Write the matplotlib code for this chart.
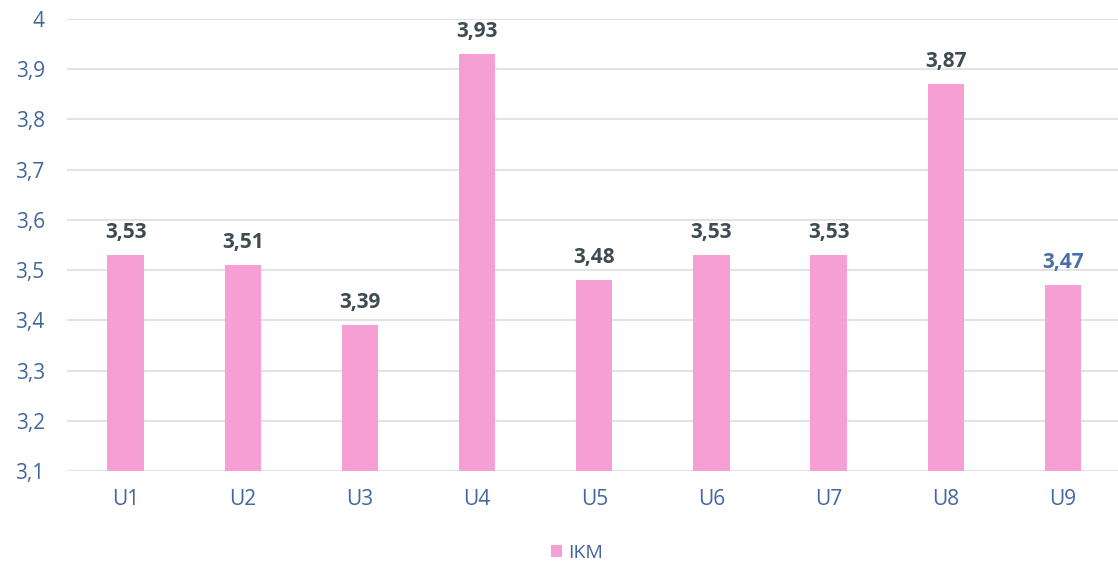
import matplotlib
matplotlib.use("Agg")
import matplotlib.pyplot as plt
from matplotlib.ticker import FixedLocator, FuncFormatter

categories = ["U1", "U2", "U3", "U4", "U5", "U6", "U7", "U8", "U9"]
ikm = [3.53, 3.51, 3.39, 3.93, 3.48, 3.53, 3.53, 3.87, 3.47]
label_colors = ["#3f4b52"] * 8 + ["#4a6fa8"]
yticks = [3.1, 3.2, 3.3, 3.4, 3.5, 3.6, 3.7, 3.8, 3.9, 4.0]

plt.rcParams['font.family'] = ['Open Sans', 'DejaVu Sans']
fig = plt.figure(figsize=(11.18, 5.73), dpi=100)
ax = fig.add_axes([67/1118, 1 - 471/573, (1118 - 67)/1118, (471 - 19)/573])

x = range(len(categories))
bars = ax.bar(x, ikm, width=0.31, bottom=0, color="#F59FD4", zorder=3, label="IKM")
ax.set_ylim(3.1, 4.0)
ax.set_xlim(-0.5, 8.47)
ax.yaxis.set_major_locator(FixedLocator(yticks))
ax.yaxis.set_major_formatter(FuncFormatter(lambda v, p: ("%g" % round(v, 1)).replace(".", ",")))
ax.set_xticks(list(x))
ax.set_xticklabels(categories)
ax.grid(axis="y", color="#e3e3e3", linewidth=1.5, zorder=0)
ax.set_axisbelow(True)
for s in ax.spines.values():
    s.set_visible(False)
ax.tick_params(axis="both", length=0, colors="#4265a0", labelsize=15)
ax.tick_params(axis="y", pad=16)
ax.tick_params(axis="x", pad=13)

for xi, v, c in zip(x, ikm, label_colors):
    ax.annotate(("%.2f" % v).replace(".", ","), (xi, v), xytext=(0, 9), textcoords="offset points",
                ha="center", va="bottom", fontsize=15, fontweight="bold", color=c, annotation_clip=False)

leg = fig.legend(handles=[bars], labels=["IKM"], loc="center", bbox_to_anchor=(577/1118, 1 - 553/573),
                 frameon=False, fontsize=14, handlelength=0.6, handleheight=0.6, handletextpad=0.3)
for t in leg.get_texts():
    t.set_color("#4265a0")

fig.savefig("out.png", dpi=100)
